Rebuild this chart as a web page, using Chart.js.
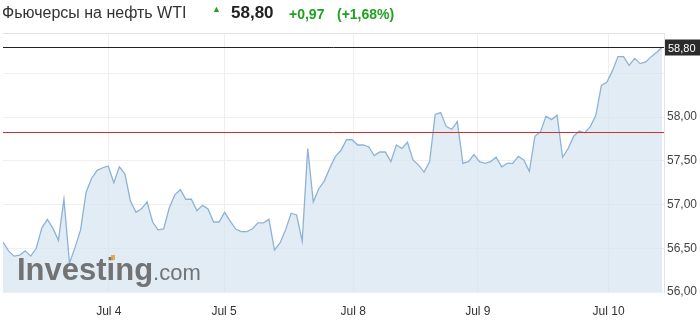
<!DOCTYPE html>
<html>
<head>
<meta charset="utf-8">
<script src="https://cdn.jsdelivr.net/npm/chart.js@4/dist/chart.umd.min.js"></script>
<style>
  body { margin: 0; background: #fff; font-family: "Liberation Sans", Arial, sans-serif; }
  #wrap { position: relative; width: 700px; height: 323px; }
  #hdr span { position: absolute; white-space: nowrap; }
  canvas { position: absolute; left: 0; top: 0; }
</style>
</head>
<body>
<div id="wrap">
  <canvas id="oil" width="700" height="323"></canvas>
  <div id="hdr">
    <span style="left:2px;top:4px;font-size:16px;color:#333">Фьючерсы на нефть WTI</span>
    <span style="left:212px;top:4px;font-size:9px;color:#21a121">&#9650;</span>
    <span style="left:231px;top:3px;font-size:17px;font-weight:bold;color:#222">58,80</span>
    <span style="left:289px;top:6px;font-size:14px;font-weight:bold;color:#21a121">+0,97</span>
    <span style="left:337px;top:6px;font-size:14px;font-weight:bold;color:#21a121">(+1,68%)</span>
  </div>
</div>
<script>
// hourly prices
const prices = [
  56.57, 56.47, 56.41, 56.42, 56.47, 56.41, 56.50, 56.73, 56.83, 56.73,
  56.59, 57.06, 56.33, 56.51, 56.71, 57.14, 57.30, 57.39, 57.42, 57.44,
  57.25, 57.43, 57.35, 57.04, 56.91, 56.95, 57.03, 56.80, 56.71, 56.72,
  56.96, 57.11, 57.17, 57.06, 57.06, 56.93, 56.99, 56.95, 56.80, 56.80,
  56.91, 56.81, 56.72, 56.69, 56.69, 56.72, 56.79, 56.79, 56.83, 56.48,
  56.56, 56.71, 56.90, 56.88, 56.58, 57.64, 57.03, 57.18, 57.27, 57.42,
  57.55, 57.62, 57.74, 57.74, 57.68, 57.68, 57.66, 57.56, 57.60, 57.60,
  57.49, 57.68, 57.64, 57.71, 57.51, 57.45, 57.37, 57.49, 58.03, 58.05,
  57.89, 57.86, 57.95, 57.47, 57.49, 57.57, 57.49, 57.47, 57.49, 57.54,
  57.43, 57.47, 57.47, 57.55, 57.51, 57.38, 57.78, 57.83, 58.01, 57.97,
  58.02, 57.54, 57.64, 57.78, 57.84, 57.82, 57.89, 58.02, 58.36, 58.40,
  58.53, 58.69, 58.69, 58.59, 58.67, 58.61, 58.63, 58.69, 58.74, 58.80
];
const dayLabels = ['Jul 4', 'Jul 5', 'Jul 8', 'Jul 9', 'Jul 10'];
const dayTickIndex = [19.1, 39.9, 63.2, 85.7, 109.3];
const yTicks = [56, 56.5, 57, 57.5, 58, 58.5];
const yTickLabels = ['56,00', '56,50', '57,00', '57,50', '58,00', ''];
const prevClose = 57.83;
const lastPrice = 58.80;
const lastLabel = '58,80';

const points = prices.map((p, i) => ({ x: i, y: p }));

const extras = {
  id: 'extras',
  afterDatasetsDraw(chart) {
    const ctx = chart.ctx, a = chart.chartArea;
    const ys = chart.scales.y;
    ctx.save();
    // top border of the plot box
    ctx.strokeStyle = '#e2e2e2';
    ctx.lineWidth = 1;
    ctx.beginPath(); ctx.moveTo(a.left, a.top + 0.5); ctx.lineTo(a.right, a.top + 0.5); ctx.stroke();
    // watermark
    ctx.globalAlpha = 0.9;
    ctx.fillStyle = '#666';
    ctx.font = 'bold 31px "Liberation Sans", Arial';
    ctx.textBaseline = 'alphabetic';
    ctx.fillText('Investing', 17, 280);
    const w = ctx.measureText('Investing').width;
    ctx.font = '22px "Liberation Sans", Arial';
    ctx.fillText('.com', 17 + w, 280);
    ctx.fillStyle = '#e8a33c';
    ctx.fillRect(111, 255, 4, 5);
    ctx.globalAlpha = 1;
    // previous close
    let y = Math.round(ys.getPixelForValue(prevClose)) + 0.5;
    ctx.strokeStyle = '#d0312d';
    ctx.beginPath(); ctx.moveTo(a.left, y); ctx.lineTo(a.right, y); ctx.stroke();
    // last price
    y = Math.round(ys.getPixelForValue(lastPrice)) + 0.5;
    ctx.strokeStyle = '#222';
    ctx.beginPath(); ctx.moveTo(a.left, y); ctx.lineTo(a.right, y); ctx.stroke();
    ctx.fillStyle = '#2b2b2b';
    ctx.fillRect(a.right + 1, y - 8, 35, 16);
    ctx.fillStyle = '#fff';
    ctx.font = '11px "Liberation Sans", Arial';
    ctx.textBaseline = 'middle';
    ctx.fillText(lastLabel, a.right + 4, y + 1);
    ctx.restore();
  }
};

new Chart(document.getElementById('oil'), {
  type: 'line',
  data: {
    datasets: [{
      data: points,
      borderColor: '#8db2d8',
      borderWidth: 1.3,
      backgroundColor: 'rgba(214,228,240,0.7)',
      fill: 'start',
      pointRadius: 0,
      tension: 0
    }]
  },
  options: {
    responsive: false,
    animation: false,
    layout: { padding: { left: 3, top: 33, right: 0, bottom: 0 } },
    plugins: { legend: { display: false }, tooltip: { enabled: false } },
    scales: {
      x: {
        type: 'linear',
        min: 0,
        max: prices.length - 0.7,
        afterBuildTicks: s => { s.ticks = dayTickIndex.map(v => ({ value: v })); },
        afterFit: s => { s.height = 31; },
        ticks: {
          callback: (v, i) => dayLabels[i],
          color: '#333',
          font: { family: '"Liberation Sans", Arial', size: 12 },
          padding: 12,
          maxRotation: 0,
          autoSkip: false
        },
        grid: { color: '#efefef', drawTicks: false },
        border: { display: false }
      },
      y: {
        position: 'right',
        min: 56,
        max: 58.96,
        afterBuildTicks: s => { s.ticks = yTicks.map(v => ({ value: v })); },
        afterFit: s => { s.width = 36; },
        ticks: {
          callback: (v, i) => yTickLabels[i],
          color: '#444',
          font: { family: '"Liberation Sans", Arial', size: 12 },
          padding: 3
        },
        grid: { color: '#efefef', drawTicks: false },
        border: { display: true, color: '#e4e4e4' }
      }
    }
  },
  plugins: [extras]
});
</script>
</body>
</html>
